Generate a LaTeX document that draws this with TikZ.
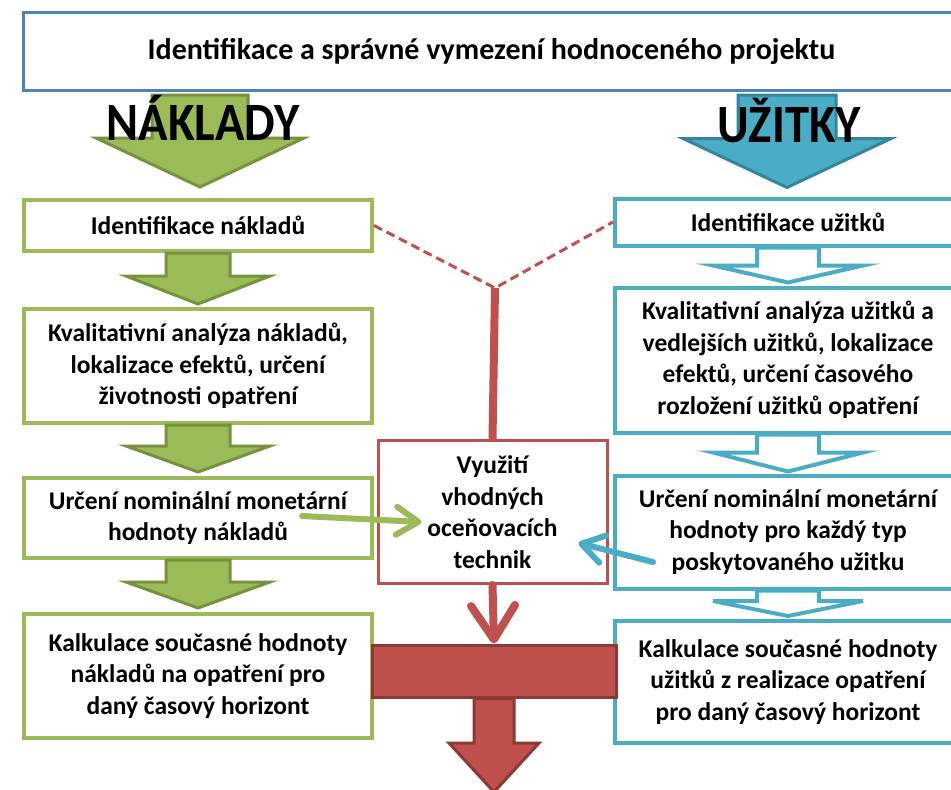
\documentclass[tikz,border=0pt]{standalone}
\usepackage{fontspec}
\setmainfont{Carlito}
\usetikzlibrary{calc,arrows.meta}

\definecolor{grn}{HTML}{9BBB59}
\definecolor{grndark}{HTML}{76923C}
\definecolor{blu}{HTML}{4BACC6}
\definecolor{bludark}{HTML}{31859C}
\definecolor{rd}{HTML}{C0504D}
\definecolor{rddark}{HTML}{8C3836}
\definecolor{titleblue}{HTML}{4F81BD}

%% block arrow: [style]{from}{to}{shaft half width}{head half width}{head length}
\newcommand{\blockarrow}[6][]{%
  \path[#1] let \p1=(#2), \p2=(#3) in
    (\x1-#4pt,\y1) -- (\x1+#4pt,\y1) -- (\x1+#4pt,\y2+#6pt) -- (\x1+#5pt,\y2+#6pt)
    -- (\x1,\y2) -- (\x1-#5pt,\y2+#6pt) -- (\x1-#4pt,\y2+#6pt) -- cycle;}

\begin{document}
\begin{tikzpicture}[x=1pt,y=-1pt,
  box/.style={draw, line width=4pt, fill=white, align=center, inner sep=0pt,
    font=\fontsize{25.5}{31.5}\selectfont\bfseries},
  costbox/.style={box, draw=grn, minimum width=348pt},
  gainbox/.style={box, draw=blu, minimum width=346pt},
  costarrow/.style={fill=grn, draw=grndark, line width=3pt},
  gainarrow/.style={fill=white, draw=blu, line width=4pt},
  bigword/.style={font=\fontsize{54}{54}\selectfont\bfseries, inner sep=0pt, xscale=0.9},
  barb/.style={-{Straight Barb[length=22pt,width=28pt,round]}, line cap=round}]

  \useasboundingbox (0,0) rectangle (951,790);
  \clip (0,0) rectangle (951,790);

  %% Title
  \node[draw=titleblue, line width=3pt, minimum width=937pt, minimum height=78pt,
    font=\fontsize{30}{34}\selectfont\bfseries] (title) at (491.5,51)
    {Identifikace a správné vymezení hodnoceného projektu};

  %% Costs column
  \node[costbox, minimum height=51pt]  (L1) at (198,225.5) {Identifikace nákladů};
  \node[costbox, minimum height=114pt] (L2) at (198,366)
    {Kvalitativní analýza nákladů,\\lokalizace efektů, určení\\životnosti opatření};
  \node[costbox, minimum height=80pt]  (L3) at (198,518)
    {Určení nominální monetární\\hodnoty nákladů};
  \node[costbox, minimum height=124pt] (L4) at (198,676)
    {Kalkulace současné hodnoty\\nákladů na opatření pro\\daný časový horizont};

  %% Benefits column
  \node[gainbox, minimum height=47pt]  (R1) at (788,222) {Identifikace užitků};
  \node[gainbox, minimum height=145pt] (R2) at (788,360)
    {Kvalitativní analýza užitků a\\vedlejších užitků, lokalizace\\efektů, určení časového\\rozložení užitků opatření};
  \node[gainbox, minimum height=113pt] (R3) at (788,532)
    {Určení nominální monetární\\hodnoty pro každý typ\\poskytovaného užitku};
  \node[gainbox, minimum height=122pt] (R4) at (788,682)
    {Kalkulace současné hodnoty\\užitků z realizace opatření\\pro daný časový horizont};

  %% Valuation
  \node[box, draw=rd, line width=3pt, minimum width=229pt, minimum height=143pt]
    (val) at (492.5,512) {Využití\\vhodných\\oceňovacích\\technik};
  \node[fill=rd, draw=rddark, line width=3pt, minimum width=244pt, minimum height=52pt]
    (bar) at (494,671) {};

  \coordinate (nakl) at (200,95);
  \coordinate (uzit) at (787,95);
  \coordinate (join) at (495,288);
  \coordinate (out) at (493,792);

  %% Big arrows
  \blockarrow[costarrow]{nakl}{[yshift=11pt]L1.north}{48}{104}{49}
  \blockarrow[fill=blu, draw=bludark, line width=3pt]{uzit}{[yshift=9pt]R1.north}{49}{104}{49}
  \node[bigword] (naklw) at (203,118) {NÁKLADY};
  \node[bigword] (uzitw) at (789,120) {UŽITKY};

  \blockarrow[costarrow]{L1.south}{[yshift=3pt]L2.north}{32}{72}{28}
  \blockarrow[costarrow]{L2.south}{[yshift=4pt]L3.north}{32}{72}{26}
  \blockarrow[costarrow]{L3.south}{[yshift=4pt]L4.north}{32}{72}{26}

  \blockarrow[gainarrow]{R1.south}{[yshift=3pt]R2.north}{31}{75}{17}
  \blockarrow[gainarrow]{R2.south}{[yshift=2pt]R3.north}{31}{75}{19}
  \blockarrow[gainarrow]{R3.south}{[yshift=3pt]R4.north}{31}{75}{15}

  %% Red links
  \draw[rd, line width=3pt, dash pattern=on 9pt off 5pt] (L1.east) -- (join) -- (R1.west);
  \draw[rd, line width=8pt] (join) -- (val.north);
  \draw[rd, line width=8pt, -{Straight Barb[length=34pt,width=44pt,round]}, line cap=round]
    (val.south) -- (bar.north);
  \blockarrow[fill=rd, draw=rddark, line width=3pt]{bar.south}{out}{20}{45}{49}

  %% Inputs to valuation
  \draw[grn, line width=6pt, barb] ([shift={(-72,-2)}]L3.east) -- ([shift={(45,10)}]val.west);
  \draw[blu, line width=6pt, barb] ([shift={(40,30)}]R3.west) -- ([shift={(-30,31)}]val.east);

\end{tikzpicture}
\end{document}
